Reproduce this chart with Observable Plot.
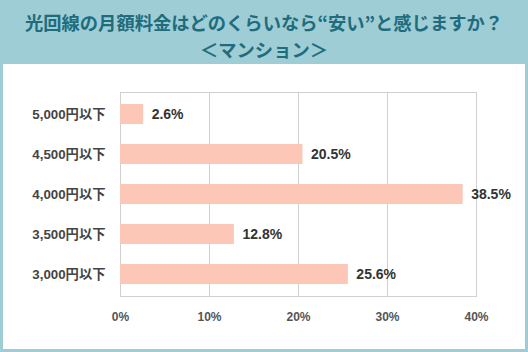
<!DOCTYPE html>
<html><head><meta charset="utf-8">
<script src="https://cdn.jsdelivr.net/npm/d3@7"></script>
<script src="https://cdn.jsdelivr.net/npm/@observablehq/plot@0.6"></script>
<style>
html,body{margin:0;padding:0;width:528px;height:352px;overflow:hidden;background:#9ecdd6;font-family:"Liberation Sans","Noto Sans CJK JP",sans-serif;}
#title{position:absolute;left:0;top:0;width:528px;text-align:center;color:#1e6c7c;font-weight:bold;font-size:18.3px;font-family:"Noto Sans CJK JP",sans-serif;}
#t1{position:absolute;top:9px;width:528px;line-height:26px;}
#t2{position:absolute;top:36px;width:528px;line-height:26px;}
#panel{position:absolute;left:3px;top:64px;width:522px;height:285px;background:#fff;}
</style></head>
<body>
<div id="title"><div id="t1">光回線の月額料金はどのくらいなら“安い”と感じますか？</div><div id="t2">＜マンション＞</div></div>
<div id="panel"></div>
<script>
const categories = ["5,000円以下","4,500円以下","4,000円以下","3,500円以下","3,000円以下"];
const values = [2.6, 20.5, 38.5, 12.8, 25.6];
const xTicks = [0, 10, 20, 30, 40];
const data = categories.map((c,i)=>({cat:c, v:values[i]}));
const chart = Plot.plot({
  width: 522, height: 285,
  marginLeft: 117, marginTop: 28, marginBottom: 53, marginRight: 49,
  style: {fontFamily: '"Liberation Sans","Noto Sans CJK JP",sans-serif', background: "#fff"},
  x: {domain: [0, 40]},
  y: {domain: categories, paddingInner: 0.49, paddingOuter: 0.245},
  marks: [
    Plot.gridX(xTicks.slice(1, -1), {stroke: "#d0d0d0", strokeOpacity: 1}),
    Plot.frame({stroke: "#d0d0d0"}),
    Plot.barX(data, {x: "v", y: "cat", fill: "#fcc7b7"}),
    Plot.text(data, {x: "v", y: "cat", text: d => d.v.toFixed(1) + "%", textAnchor: "start", dx: 8, fontSize: 14, fontWeight: "bold", fill: "#333"}),
    Plot.axisX(xTicks, {tickSize: 0, tickPadding: 16, tickFormat: d => d + "%", fontSize: 12, fontWeight: "bold", fill: "#555", label: null}),
    Plot.axisY({tickSize: 0, tickPadding: 15, fontSize: 13.3, fontWeight: "bold", fill: "#444", label: null})
  ]
});
document.getElementById("panel").appendChild(chart);
</script>
</body></html>
